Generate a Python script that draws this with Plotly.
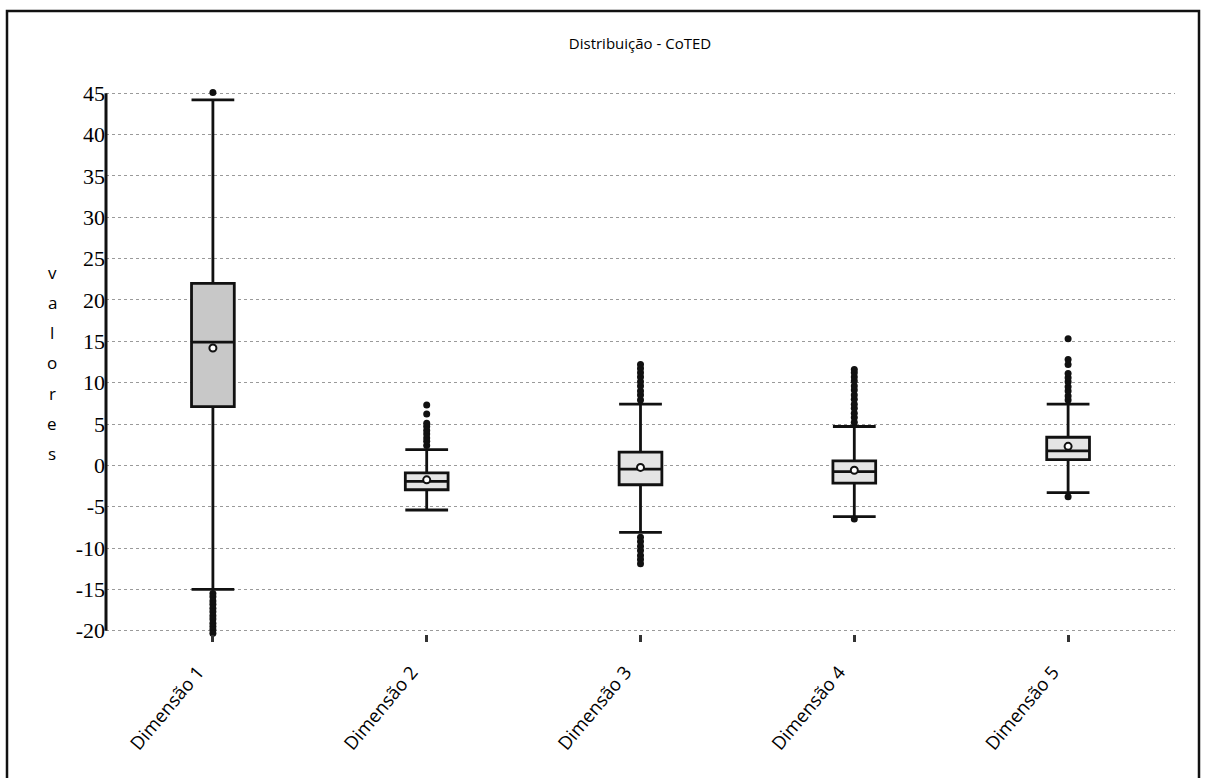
import plotly.graph_objects as go

# Summary statistics per dimension
categories = ["Dimensão 1", "Dimensão 2", "Dimensão 3", "Dimensão 4", "Dimensão 5"]
q1 = [7.1, -2.95, -2.35, -2.15, 0.7]
median = [14.9, -1.95, -0.45, -0.75, 1.75]
q3 = [22.0, -0.9, 1.6, 0.55, 3.4]
lower_whisker = [-15.0, -5.4, -8.1, -6.2, -3.3]
upper_whisker = [44.2, 1.9, 7.4, 4.7, 7.4]
means = [14.2, -1.75, -0.25, -0.6, 2.3]

# Points beyond the whiskers
outliers_dim1 = [45.1, -15.5, -15.9, -16.4, -16.8, -17.3, -17.7, -18.2, -18.6, -19.1, -19.5, -19.9, -20.3]
outliers_dim2 = [2.4, 2.9, 3.3, 3.8, 4.2, 4.7, 5.1, 6.2, 7.3]
outliers_dim3 = [7.9, 8.5, 9.0, 9.6, 10.1, 10.7, 11.2, 11.7, 12.2,
                 -8.7, -9.2, -9.8, -10.3, -10.9, -11.4, -11.9]
outliers_dim4 = [5.2, 5.8, 6.3, 6.9, 7.4, 8.0, 8.5, 9.1, 9.6, 10.2, 10.7, 11.2, 11.6, -6.5]
outliers_dim5 = [7.9, 8.4, 9.0, 9.5, 10.1, 10.6, 11.1, 12.2, 12.8, 15.3, -3.8]
outliers = [outliers_dim1, outliers_dim2, outliers_dim3, outliers_dim4, outliers_dim5]

y_ticks = list(range(-20, 50, 5))
y_title = "valores"
chart_title = "Distribuição - CoTED"

# Figure geometry (pixels); the value axis runs a hair past -20 and 45
# so that the extreme outliers stay visible
W, H = 1206, 778
Y_MIN, Y_MAX = -20.4, 45.4
ML, MR, MT, MB = 106, 31, 90, 144
PW, PH = W - ML - MR, H - MT - MB


def px_x(p):
    return (p - ML) / PW


def px_y(p):
    return (H - MB - p) / PH


fig = go.Figure()

for i, cat in enumerate(categories):
    fig.add_trace(go.Box(
        x=[cat], q1=[q1[i]], median=[median[i]], q3=[q3[i]],
        lowerfence=[lower_whisker[i]], upperfence=[upper_whisker[i]],
        boxpoints=False, width=0.2, whiskerwidth=1,
        line=dict(color="#111111", width=2.8),
        fillcolor="#c8c8c8" if i == 0 else "#e4e4e4",
        showlegend=False, hoverinfo="skip",
    ))

for i, cat in enumerate(categories):
    fig.add_trace(go.Scatter(
        x=[cat] * len(outliers[i]), y=outliers[i], mode="markers",
        marker=dict(color="#111111", size=7, line=dict(width=0)),
        cliponaxis=False, showlegend=False,
    ))

fig.add_trace(go.Scatter(
    x=categories, y=means, mode="markers",
    marker=dict(symbol="circle", color="white", size=7,
                line=dict(color="#111111", width=2)),
    showlegend=False,
))

annotations = []
for k, ch in enumerate(y_title):
    annotations.append(dict(
        text=ch, xref="paper", yref="paper",
        x=px_x(52), y=px_y(272 + k * 30.3),
        xanchor="center", yanchor="middle", showarrow=False,
        font=dict(family="Open Sans", size=17, color="#000000"),
    ))

fig.update_layout(
    width=W, height=H,
    margin=dict(l=ML, r=MR, t=MT, b=MB),
    paper_bgcolor="white", plot_bgcolor="white",
    title=dict(text=chart_title, x=640 / W, y=1 - 44 / H,
               xanchor="center", yanchor="middle",
               font=dict(family="Open Sans", size=15, color="#000000")),
    annotations=annotations,
    shapes=[
        dict(type="rect", xref="paper", yref="paper",
             x0=px_x(7), x1=px_x(1199), y0=px_y(800), y1=px_y(11),
             line=dict(color="#111111", width=2.5), layer="above"),
        # value axis line, drawn from -20 to 45
        dict(type="line", xref="paper", yref="y", x0=0, x1=0, y0=-20, y1=45,
             line=dict(color="#111111", width=3), layer="above"),
    ],
)

fig.update_xaxes(
    type="category", categoryorder="array", categoryarray=categories,
    range=[-0.5, 4.5], showgrid=False, showline=False, zeroline=False,
    ticks="outside", ticklen=7, tickwidth=3, tickcolor="#333333",
    ticklabelstandoff=12, ticklabelshift=-15,
    tickangle=-50, tickfont=dict(family="Open Sans", size=18.5, color="#000000"),
)
fig.update_yaxes(
    range=[Y_MIN, Y_MAX], tickvals=y_ticks, ticktext=[str(v) for v in y_ticks],
    showgrid=True, gridcolor="#9a9a9a", griddash="dot", gridwidth=1,
    showline=False, zeroline=False,
    ticks="", tickfont=dict(family="Liberation Serif", size=22, color="#000000"),
)

fig.write_html("out.html")
